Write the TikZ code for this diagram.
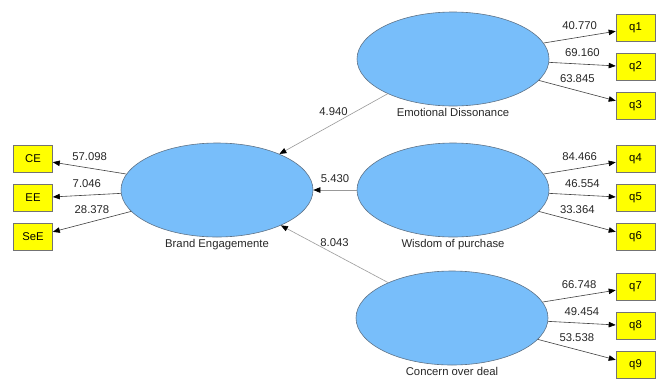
\documentclass[tikz,border=0pt]{standalone}
\usepackage{fontspec}
\setmainfont{Liberation Sans}
\usetikzlibrary{arrows.meta,shapes.geometric}
\definecolor{lvblue}{RGB}{120,190,250}
\definecolor{lvedge}{RGB}{95,115,135}
\definecolor{mvyellow}{RGB}{255,255,0}
\tikzset{
  latent/.style={ellipse, draw=lvedge, fill=lvblue, line width=0.6pt,
    minimum width=192pt, minimum height=94pt, inner sep=0pt,
    label={[font=\fontsize{11.3}{13}\selectfont, text=black!85, inner sep=2pt]below:#1}},
  manifest/.style={rectangle, draw=black!55, fill=mvyellow, line width=0.6pt,
    minimum width=39pt, minimum height=27pt, inner sep=0pt,
    font=\fontsize{11.3}{13}\selectfont},
  loading/.style={draw=black!75, line width=0.6pt,
    -{Triangle[length=7pt,width=5.5pt,color=black]}},
  structural/.style={draw=black!40, line width=0.6pt,
    -{Triangle[length=7pt,width=5.5pt,color=black]}},
  coef/.style={midway, above=6.5pt, inner sep=1pt, text=black!85,
    font=\fontsize{11.3}{13}\selectfont}
}

\begin{document}
\begin{tikzpicture}[x=1pt, y=-1pt]
\useasboundingbox (0,0) rectangle (661,381);

\node[latent=Brand Engagemente] (be) at (217,190) {};
\node[latent=Emotional Dissonance] (ed) at (453,59) {};
\node[latent=Wisdom of purchase] (wp) at (453,190) {};
\node[latent=Concern over deal] (cd) at (452,318) {};

\node[manifest] (ce) at (33,159) {CE};
\node[manifest] (ee) at (33,198) {EE};
\node[manifest] (see) at (33,237) {SeE};

\node[manifest] (q1) at (635.5,28) {q1};
\node[manifest] (q2) at (635.5,67) {q2};
\node[manifest] (q3) at (635.5,106) {q3};
\node[manifest] (q4) at (635.5,159) {q4};
\node[manifest] (q5) at (635.5,198) {q5};
\node[manifest] (q6) at (635.5,237) {q6};
\node[manifest] (q7) at (635.5,287) {q7};
\node[manifest] (q8) at (635.5,326) {q8};
\node[manifest] (q9) at (635.5,365) {q9};

\draw[loading] (be.170) -- (ce) node[coef] {57.098};
\draw[loading] (be.182) -- (ee) node[coef] {7.046};
\draw[loading] (be.194) -- (see) node[coef] {28.378};

\draw[loading] (ed.10) -- (q1) node[coef] {40.770};
\draw[loading] (ed.358) -- (q2) node[coef] {69.160};
\draw[loading] (ed.346) -- (q3) node[coef] {63.845};
\draw[loading] (wp.10) -- (q4) node[coef] {84.466};
\draw[loading] (wp.358) -- (q5) node[coef] {46.554};
\draw[loading] (wp.346) -- (q6) node[coef] {33.364};
\draw[loading] (cd.10) -- (q7) node[coef] {66.748};
\draw[loading] (cd.358) -- (q8) node[coef] {49.454};
\draw[loading] (cd.346) -- (q9) node[coef] {53.538};

\draw[structural] (ed.208) -- (be.30) node[coef] {4.940};
\draw[structural] (wp.west) -- (be.east) node[coef] {5.430};
\draw[structural] (cd.151) -- (be.331) node[coef] {8.043};
\end{tikzpicture}
\end{document}
